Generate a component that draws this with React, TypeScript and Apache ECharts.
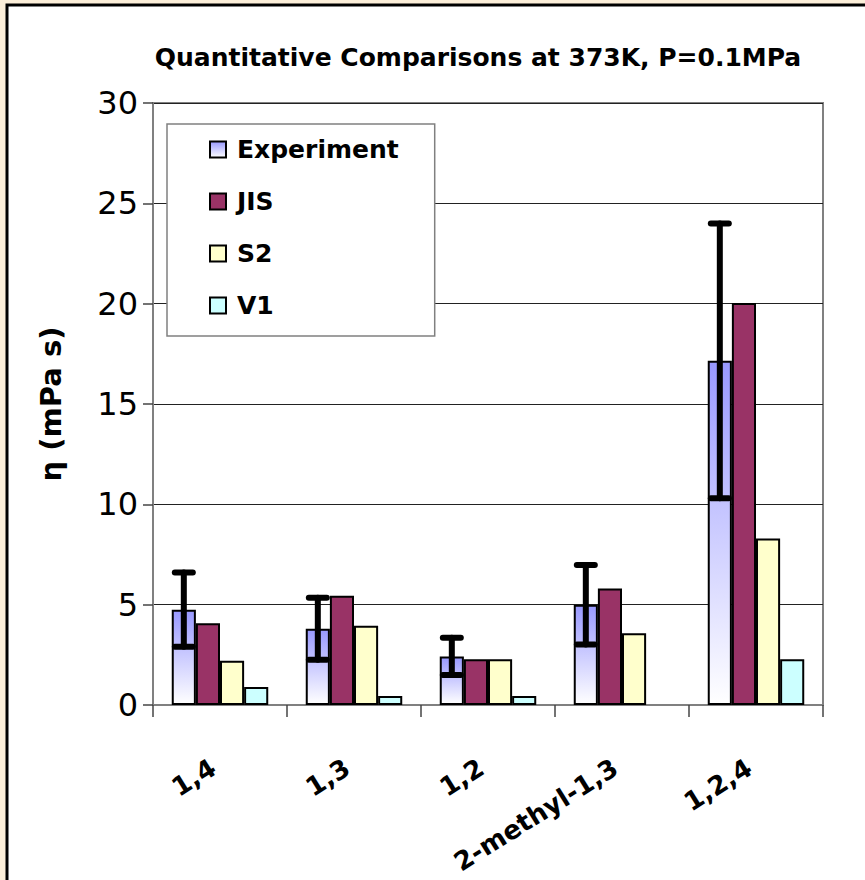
import React, { useEffect, useRef } from "react";
import * as echarts from "echarts";

const categories = ["1,4", "1,3", "1,2", "2-methyl-1,3", "1,2,4"];
const experiment = [4.75, 3.8, 2.42, 5.0, 17.15];
const experimentError = [1.85, 1.55, 0.93, 1.98, 6.85];
const jis = [4.07, 5.45, 2.28, 5.8, 20.03];
const s2 = [2.2, 3.95, 2.28, 3.58, 8.3];
const v1 = [0.9, 0.45, 0.45, null, 2.28];
const yTicks = { min: 0, max: 30, interval: 5 };

const FONT = "'DejaVu Sans', 'Liberation Sans', Arial, sans-serif";
const CAT_GAP = 0.28;

export default function App() {
  const ref = useRef<HTMLDivElement>(null);
  useEffect(() => {
    if (!ref.current) return;
    const chart = echarts.init(ref.current, null, { renderer: "svg" });
    const barBorder = { borderColor: "#000", borderWidth: 2 };
    const errorData = categories.map((_, i) => [
      i,
      experiment[i] - experimentError[i],
      experiment[i] + experimentError[i],
    ]);
    chart.setOption({
      animation: false,
      backgroundColor: "transparent",
      graphic: [
        {
          type: "rect",
          z: -10,
          silent: true,
          shape: { x: 7, y: 5, width: 900, height: 900 },
          style: { fill: "#fff", stroke: "#000", lineWidth: 3 },
        },
      ],
      title: {
        text: "Quantitative Comparisons at 373K, P=0.1MPa",
        left: 473,
        top: 40,
        textAlign: "center",
        textStyle: { fontFamily: FONT, fontSize: 25, fontWeight: "bold", color: "#000" },
      },
      legend: {
        orient: "vertical",
        left: 167,
        top: 124,
        data: ["Experiment", "JIS", "S2", "V1"],
        icon: "rect",
        itemWidth: 16,
        itemHeight: 16,
        itemGap: 27,
        padding: [13, 36, 18, 42],
        backgroundColor: "#fff",
        borderColor: "#808080",
        borderWidth: 1.5,
        textStyle: { fontFamily: FONT, fontSize: 25, fontWeight: "bold", color: "#000", padding: [0, 0, 0, 6] },
      },
      grid: {
        left: 153,
        top: 103,
        width: 670,
        height: 602,
        containLabel: false,
        outerBoundsMode: "none",
        show: true,
        borderColor: "#808080",
        borderWidth: 2,
        backgroundColor: "transparent",
      },
      xAxis: {
        type: "category",
        data: categories,
        boundaryGap: true,
        axisLine: { lineStyle: { color: "#808080", width: 2 } },
        axisTick: { show: true, length: 12, lineStyle: { color: "#444", width: 1.5 } },
        axisLabel: {
          rotate: 32,
          margin: 56,
          interval: 0,
          padding: [0, 8, 0, 0],
          fontFamily: FONT,
          fontSize: 26,
          fontWeight: "bold",
          color: "#000",
        },
      },
      yAxis: {
        type: "value",
        min: yTicks.min,
        max: yTicks.max,
        interval: yTicks.interval,
        name: "η (mPa s)",
        nameLocation: "middle",
        nameGap: 88,
        nameRotate: 90,
        nameTextStyle: { fontFamily: FONT, fontSize: 29, fontWeight: "bold", color: "#000" },
        axisLine: { show: true, lineStyle: { color: "#808080", width: 2 } },
        axisTick: { show: true, inside: false, length: 10, lineStyle: { color: "#444", width: 1.5 } },
        axisLabel: { fontFamily: FONT, fontSize: 32, color: "#000", margin: 15 },
        splitLine: { show: true, lineStyle: { color: "#222", width: 1.2 } },
      },
      series: [
        {
          name: "Experiment",
          type: "bar",
          data: experiment,
          barGap: "0%",
          barCategoryGap: CAT_GAP * 100 + "%",
          itemStyle: {
            color: new echarts.graphic.LinearGradient(0, 0, 0, 1, [
              { offset: 0, color: "#9999FF" },
              { offset: 1, color: "#FFFFFF" },
            ]),
            ...barBorder,
          },
        },
        { name: "JIS", type: "bar", data: jis, itemStyle: { color: "#993366", ...barBorder } },
        { name: "S2", type: "bar", data: s2, itemStyle: { color: "#FFFFCC", ...barBorder } },
        { name: "V1", type: "bar", data: v1, itemStyle: { color: "#CCFFFF", ...barBorder } },
        {
          name: "error",
          type: "custom",
          z: 10,
          data: errorData,
          renderItem: (params: any, api: any) => {
            const x = api.value(0);
            const lo = api.coord([x, api.value(1)]);
            const hi = api.coord([x, api.value(2)]);
            const catW = api.size([1, 0])[0];
            const bw = (catW * (1 - CAT_GAP)) / 4;
            const cx = lo[0] - 1.5 * bw;
            const half = 9;
            const style = { stroke: "#000", lineWidth: 6, lineCap: "round" };
            return {
              type: "group",
              children: [
                { type: "line", shape: { x1: cx, y1: hi[1], x2: cx, y2: lo[1] }, style },
                { type: "line", shape: { x1: cx - half, y1: hi[1], x2: cx + half, y2: hi[1] }, style },
                { type: "line", shape: { x1: cx - half, y1: lo[1], x2: cx + half, y2: lo[1] }, style },
              ],
            };
          },
        },
      ],
    });
    return () => chart.dispose();
  }, []);
  return (
    <div style={{ position: "absolute", left: 0, top: 0, width: 865, height: 880, background: "#FCEFD9", overflow: "hidden" }}>
      <div ref={ref} style={{ width: 865, height: 880 }} />
    </div>
  );
}
